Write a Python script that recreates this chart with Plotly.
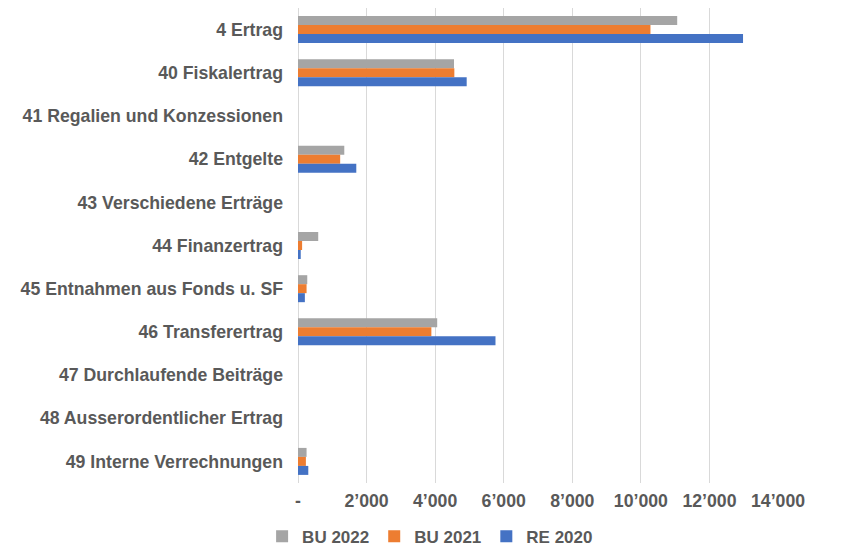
import plotly.graph_objects as go

categories = [
    "4 Ertrag",
    "40 Fiskalertrag",
    "41 Regalien und Konzessionen",
    "42 Entgelte",
    "43 Verschiedene Erträge",
    "44 Finanzertrag",
    "45 Entnahmen aus Fonds u. SF",
    "46 Transferertrag",
    "47 Durchlaufende Beiträge",
    "48 Ausserordentlicher Ertrag",
    "49 Interne Verrechnungen",
]

bu_2022 = [11060, 4550, 0, 1350, 0, 590, 270, 4060, 0, 0, 250]
bu_2021 = [10280, 4560, 0, 1230, 0, 120, 250, 3890, 0, 0, 230]
re_2020 = [12980, 4920, 0, 1700, 0, 80, 200, 5760, 0, 0, 300]

tick_values = [0, 2000, 4000, 6000, 8000, 10000, 12000, 14000]
tick_labels = ["-", "2’000", "4’000", "6’000", "8’000", "10’000", "12’000", "14’000"]

series = [
    ("BU 2022", bu_2022, "#A5A5A5"),
    ("BU 2021", bu_2021, "#ED7D31"),
    ("RE 2020", re_2020, "#4472C4"),
]

fig = go.Figure()
for name, values, color in series:
    fig.add_trace(go.Bar(
        name=name,
        x=values,
        y=categories,
        orientation="h",
        marker=dict(color=color, line=dict(width=0)),
    ))

font_family = "Liberation Sans, Arial, sans-serif"
text_color = "#595959"
label_font = dict(family=font_family, size=17.7, color=text_color, weight="bold")
legend_font = dict(family=font_family, size=17, color=text_color, weight="bold")

fig.update_layout(
    width=845,
    height=550,
    barmode="group",
    bargap=0.375,
    bargroupgap=0,
    plot_bgcolor="white",
    paper_bgcolor="white",
    margin=dict(l=298, r=67, t=8, b=67, autoexpand=False),
    font=dict(family=font_family, size=17.7, color=text_color),
    xaxis=dict(
        range=[0, 14000],
        tickvals=tick_values,
        ticktext=tick_labels,
        showgrid=True,
        gridcolor="#D9D9D9",
        gridwidth=1,
        zeroline=True,
        zerolinecolor="#D9D9D9",
        zerolinewidth=1,
        showline=False,
        ticks="",
        tickfont=label_font,
        ticklabelstandoff=5,
    ),
    yaxis=dict(
        autorange="reversed",
        showgrid=False,
        showline=False,
        ticks="",
        tickfont=label_font,
        ticklabelstandoff=14,
    ),
    legend=dict(
        orientation="h",
        xref="container",
        yref="container",
        x=0.509,
        y=0.024,
        xanchor="center",
        yanchor="middle",
        font=legend_font,
        itemwidth=30,
        traceorder="normal",
    ),
)

fig.write_html("out.html")
